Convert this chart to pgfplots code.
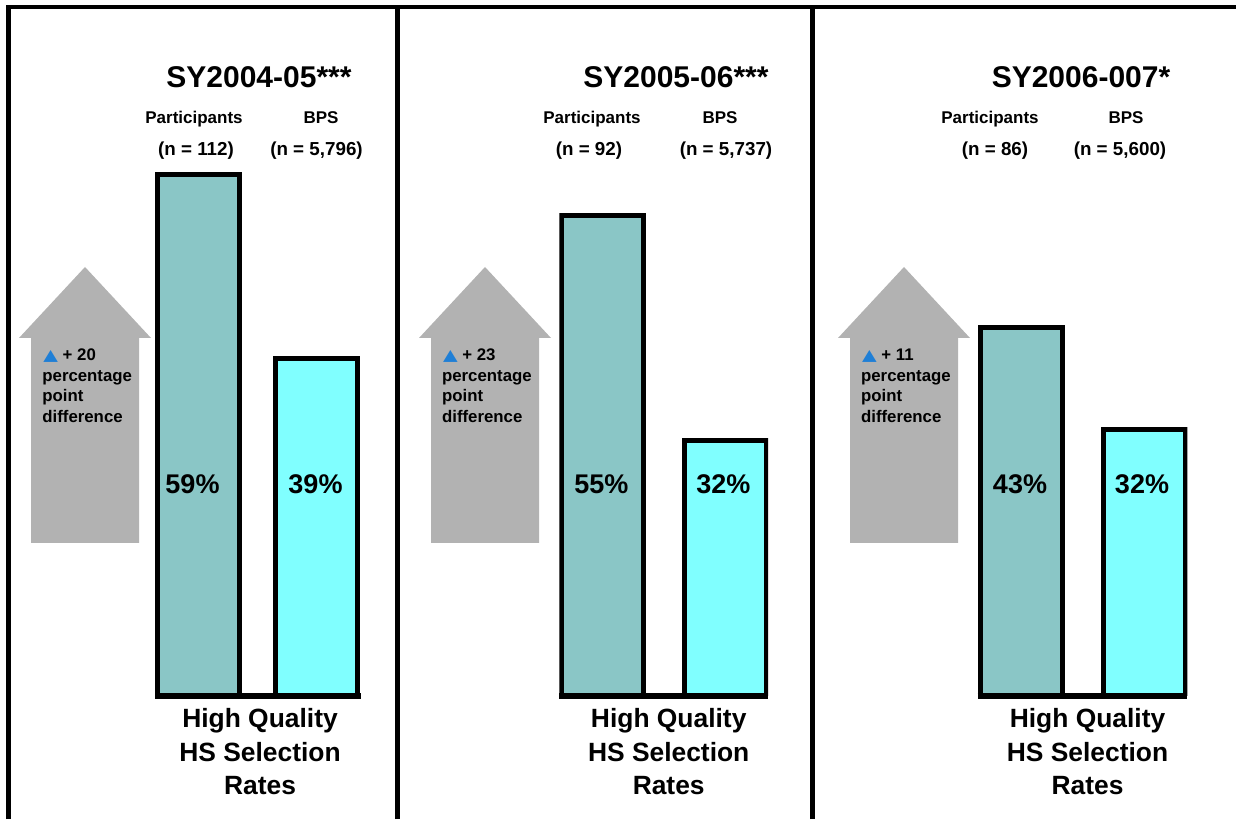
\documentclass[border=0pt]{standalone}
\usepackage{graphicx}
\usepackage{pgfplots}
\pgfplotsset{compat=1.18}
\usepackage{fontspec}
\setmainfont{Liberation Sans}
\newfontfamily\dejavu{DejaVu Sans}
\definecolor{arrowgray}{HTML}{B2B2B2}
\definecolor{partfill}{HTML}{8AC6C6}
\definecolor{bpsfill}{HTML}{80FFFF}
\definecolor{triblue}{HTML}{1F7FD6}
\newcommand\ftitle{\fontsize{15}{17}\selectfont\bfseries}
\newcommand\fhead{\fontsize{8.5}{10}\selectfont\bfseries}
\newcommand\fn{\fontsize{9.4}{11}\selectfont\bfseries}
\newcommand\fbar{\fontsize{13.5}{16}\selectfont\bfseries}
\newcommand\fbot{\fontsize{13.2}{16}\selectfont\bfseries}
\newcommand\farr{\fontsize{8.4}{10}\selectfont\bfseries}
\newcommand\tri{{\dejavu\fontsize{7.8}{9}\selectfont\color{triblue}\scalebox{1.22}[1]{▲}}}
\pgfplotsset{panel/.style={scale only axis, anchor=south west, height=273pt,
  enlargelimits=false, axis y line=none, axis x line*=bottom,
  x axis line style={line width=3pt,-}, xtick=\empty, ytick=\empty,
  ybar, bar width=41pt, bar shift=0pt,
  every axis plot/.append style={draw=black, line width=2.5pt}}}
\begin{document}
\begin{tikzpicture}
\useasboundingbox (0,0) rectangle (618pt,409.5pt);
% Panel 1
\begin{axis}[panel, at={(77.5pt,61.5pt)}, width=103pt, xmin=-0.3716, xmax=1.378, ymin=2.32, ymax=61.66]
\addplot[fill=partfill, bar shift=0pt] coordinates {(0,59)};
\addplot[fill=bpsfill, bar shift=0pt] coordinates {(1,39)};
\end{axis}
% Panel 2
\begin{axis}[panel, at={(279.65pt,61.5pt)}, width=104.35pt, xmin=-0.3527, xmax=1.351, ymin=5.95, ymax=61.72]
\addplot[fill=partfill, bar shift=0pt] coordinates {(0,55)};
\addplot[fill=bpsfill, bar shift=0pt] coordinates {(1,32)};
\end{axis}
% Panel 3
\begin{axis}[panel, at={(488.85pt,61.5pt)}, width=104.8pt, xmin=-0.3548, xmax=1.3527, ymin=3.3, ymax=62.2]
\addplot[fill=partfill, bar shift=0pt] coordinates {(0,43)};
\addplot[fill=bpsfill, bar shift=0pt] coordinates {(1,32)};
\end{axis}
\begin{scope}[x=0.5pt,y=0.5pt]
% frame lines
\draw[line width=2.25pt] (8.5,0) -- (8.5,812) -- (1236,812);
\draw[line width=2.5pt] (397.5,0) -- (397.5,812);
\draw[line width=2.5pt] (812.5,0) -- (812.5,812);
% arrows
\fill[arrowgray] (31,276) -- (31,481) -- (19,481) -- (85,552) -- (151,481) -- (139,481) -- (139,276) -- cycle;
\fill[arrowgray] (431,276) -- (431,481) -- (419,481) -- (485,552) -- (551,481) -- (539,481) -- (539,276) -- cycle;
\fill[arrowgray] (850,276) -- (850,481) -- (838,481) -- (904,552) -- (970,481) -- (958,481) -- (958,276) -- cycle;
% arrow texts
\foreach \x/\d in {42/20, 441.7/23, 860.7/11}{
  \node[anchor=base west, inner sep=0, font=\farr] at (\x+1,458) {\tri\ + \d};
  \node[anchor=base west, inner sep=0, font=\farr] at (\x,437.3) {percentage};
  \node[anchor=base west, inner sep=0, font=\farr] at (\x,417.3) {point};
  \node[anchor=base west, inner sep=0, font=\farr] at (\x,396.7) {difference};
}
% titles
\node[anchor=base, inner sep=0, font=\ftitle] at (259,731.5) {SY2004-05***};
\node[anchor=base, inner sep=0, font=\ftitle] at (676,731.5) {SY2005-06***};
\node[anchor=base, inner sep=0, font=\ftitle] at (1081,731.5) {SY2006-007*};
% group headings
\node[anchor=base, inner sep=0, font=\fhead] at (194,695) {Participants};
\node[anchor=base, inner sep=0, font=\fhead] at (321,695) {BPS};
\node[anchor=base, inner sep=0, font=\fhead] at (592,695) {Participants};
\node[anchor=base, inner sep=0, font=\fhead] at (720,695) {BPS};
\node[anchor=base, inner sep=0, font=\fhead] at (990,695) {Participants};
\node[anchor=base, inner sep=0, font=\fhead] at (1126,695) {BPS};
\node[anchor=base, inner sep=0, font=\fn] at (196,663) {(n = 112)};
\node[anchor=base, inner sep=0, font=\fn] at (316.5,663) {(n = 5,796)};
\node[anchor=base, inner sep=0, font=\fn] at (589,663) {(n = 92)};
\node[anchor=base, inner sep=0, font=\fn] at (726,663) {(n = 5,737)};
\node[anchor=base, inner sep=0, font=\fn] at (995,663) {(n = 86)};
\node[anchor=base, inner sep=0, font=\fn] at (1120,663) {(n = 5,600)};
% bar values
\node[anchor=base, inner sep=0, font=\fbar] at (192.5,325) {59\%};
\node[anchor=base, inner sep=0, font=\fbar] at (315.5,325) {39\%};
\node[anchor=base, inner sep=0, font=\fbar] at (601.3,325) {55\%};
\node[anchor=base, inner sep=0, font=\fbar] at (723.3,325) {32\%};
\node[anchor=base, inner sep=0, font=\fbar] at (1020,325) {43\%};
\node[anchor=base, inner sep=0, font=\fbar] at (1142,325) {32\%};
% bottom labels
\foreach \x in {260, 668.7, 1087.5}{
  \node[anchor=base, inner sep=0, font=\fbot] at (\x,91) {High Quality};
  \node[anchor=base, inner sep=0, font=\fbot] at (\x,57.5) {HS Selection};
  \node[anchor=base, inner sep=0, font=\fbot] at (\x,24.5) {Rates};
}
\end{scope}
\end{tikzpicture}
\end{document}
